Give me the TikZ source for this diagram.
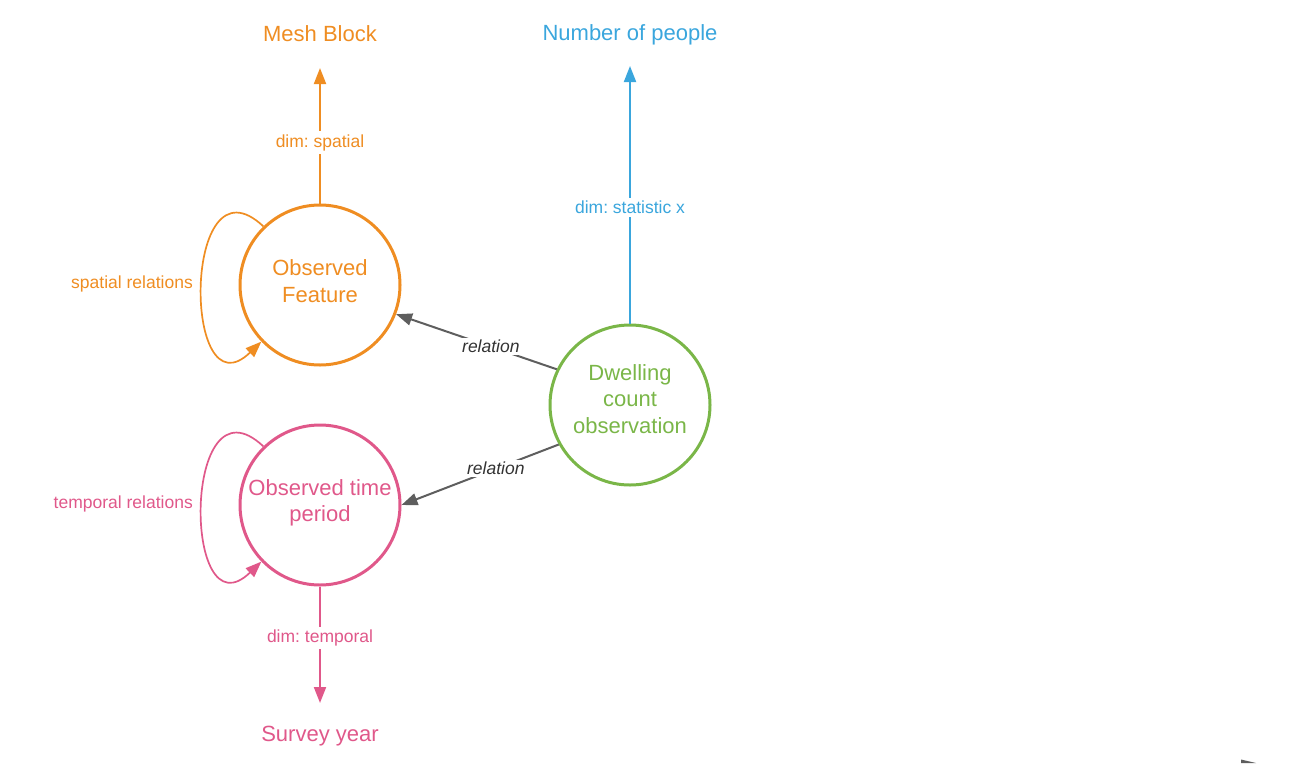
\documentclass[tikz,border=0pt]{standalone}
\usepackage{fontspec}
\setmainfont{Liberation Sans}
\frenchspacing
\usetikzlibrary{arrows.meta,calc}
\definecolor{cOrange}{HTML}{EF8D22}
\definecolor{cPink}{HTML}{E0588A}
\definecolor{cBlue}{HTML}{3AA6DD}
\definecolor{cGreen}{HTML}{7AB648}
\definecolor{cGray}{HTML}{5E5E5E}
\definecolor{cText}{HTML}{333333}
\tikzset{
  bigtext/.style={font=\fontsize{22}{27}\selectfont, inner sep=0pt},
  smalltext/.style={font=\fontsize{17.5}{21}\selectfont},
  ring/.style={circle, draw, line width=3pt, minimum size=160pt, inner sep=0pt},
  ringtext/.style={align=center, inner sep=0pt, font=\fontsize{22}{26.5}\selectfont},
  edge/.style={line width=2pt, -{Triangle[length=16pt,width=12pt]}},
  edgelabel/.style={smalltext, fill=white, inner sep=3pt},
  rellabel/.style={font=\fontsize{17.5}{21}\selectfont\itshape, text=cText, fill=white, inner sep=2pt},
  loopedge/.style={line width=1.7pt, -{Triangle[length=16pt,width=12pt]}},
}
\begin{document}
\begin{tikzpicture}[x=1pt,y=-1pt]
\useasboundingbox (0,0) rectangle (1297,763);
% circles
\node[ring, draw=cOrange] (of) at (320,285) {};
\node[ring, draw=cPink] (otp) at (320,505) {};
\node[ring, draw=cGreen] (dw) at (630,405) {};
\node[ringtext, text=cOrange] (oft) at (320,281) {Observed\\Feature};
\node[ringtext, text=cPink] (otpt) at (320,503) {Observed time\\period};
\node[ringtext, text=cGreen] (dwt) at (630,399) {Dwelling\\count\\observation};
% titles
\node[bigtext, text=cOrange] (mb) at (320,34) {Mesh Block};
\node[bigtext, text=cBlue] (np) at (630,35) {Number of people};
\node[bigtext, text=cPink] (sy) at (320,736) {Survey year};
\coordinate (mbtip) at (320,68);
\coordinate (nptip) at (630,66);
\coordinate (sytip) at (320,703);
% dimension arrows
\draw[edge, draw=cOrange, fill=cOrange] (of.north) -- node[edgelabel, text=cOrange, pos=0.45] {dim: spatial} (mbtip);
\draw[edge, draw=cBlue, fill=cBlue] (dw.north) -- node[edgelabel, text=cBlue, pos=0.45] {dim: statistic x} (nptip);
\draw[edge, draw=cPink, fill=cPink] (otp.south) -- node[edgelabel, text=cPink, pos=0.44] {dim: temporal} (sytip);
% relation arrows
\draw[edge, draw=cGray, fill=cGray] (dw.154) -- node[rellabel, pos=0.41] {relation} (of.-21);
\draw[edge, draw=cGray, fill=cGray] (dw.209) -- node[rellabel, pos=0.4] {relation} (otp.east);
% loops
\draw[loopedge, cOrange] (of.134) .. controls ($(of)+(-138,-135)$) and ($(of)+(-138,133)$) .. (of.224);
\draw[loopedge, cPink] (otp.134) .. controls ($(otp)+(-138,-135)$) and ($(otp)+(-138,133)$) .. (otp.224);
\node[smalltext, text=cOrange, anchor=east, inner sep=0pt] (sr) at (193,284) {spatial relations};
\node[smalltext, text=cPink, anchor=east, inner sep=0pt] (tr) at (193,504) {temporal relations};
% cut-off arrowhead at bottom right
\fill[cGray] (1241,759.5) -- (1256,763) -- (1241,763) -- cycle;
\end{tikzpicture}
\end{document}
